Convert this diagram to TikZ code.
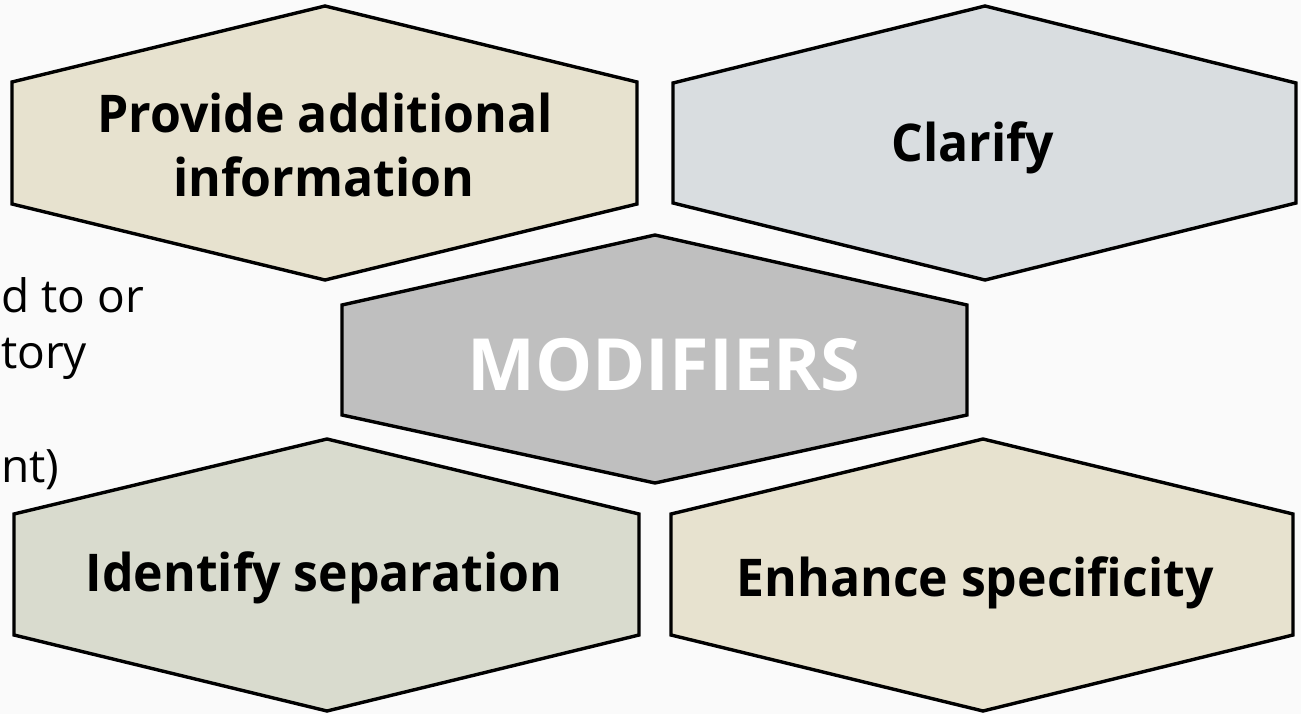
\documentclass[tikz,border=0pt]{standalone}
\usepackage{fontspec}
\setmainfont{Open Sans}
\newfontfamily\lblfont[FakeStretch=0.96]{Open Sans}
\definecolor{bgc}{HTML}{FAFAFA}
\definecolor{cTL}{HTML}{E7E2CF}
\definecolor{cTR}{HTML}{D9DDE0}
\definecolor{cM}{HTML}{BFBFBF}
\definecolor{cBL}{HTML}{D9DBCE}
\definecolor{cBR}{HTML}{E7E2CF}
\tikzset{
  hexa/.style={draw=black, line width=3.4pt, line join=miter},
  lbl/.style={anchor=base, inner sep=0pt, font=\lblfont\fontsize{52}{62}\selectfont\bfseries, text=black},
  biglbl/.style={anchor=base, inner sep=0pt, font=\fontsize{72}{86}\selectfont\bfseries, text=white},
  side/.style={anchor=base west, inner sep=0pt, font=\fontsize{46}{56}\selectfont, text=black}
}
\begin{document}
\begin{tikzpicture}[x=1pt,y=-1pt]
\useasboundingbox (0,0) rectangle (1301,714);
\fill[bgc] (0,0) rectangle (1301,714);
\node[side] (s1) at (1,312) {d to or};
\node[side] (s2) at (1,368) {tory};
\node[side] (s3) at (1,482) {nt)};
% hexagons
\path[hexa, fill=cTL] (12,82)--(325,6)--(637,82)--(637,204)--(325,280)--(12,204)--cycle;
\path[hexa, fill=cTR] (673,83)--(985,6)--(1296,83)--(1296,203)--(985,280)--(673,203)--cycle;
\path[hexa, fill=cM] (342,305)--(655,235)--(967,305)--(967,415)--(655,483)--(342,415)--cycle;
\path[hexa, fill=cBL] (14,514)--(327,439)--(639,514)--(639,635)--(327,711)--(14,635)--cycle;
\path[hexa, fill=cBR] (671,514)--(983,439)--(1293,514)--(1293,635)--(983,711)--(671,635)--cycle;
% labels
\node[lbl] (tl1) at (325,133) {Provide additional};
\node[lbl] (tl2) at (324,197) {information};
\node[lbl] (tr) at (973,162) {Clarify};
\node[biglbl] (m) at (664,390) {MODIFIERS};
\node[lbl] (bl) at (324,591) {Identify separation};
\node[lbl] (br) at (975,596) {Enhance specificity};
\end{tikzpicture}
\end{document}
